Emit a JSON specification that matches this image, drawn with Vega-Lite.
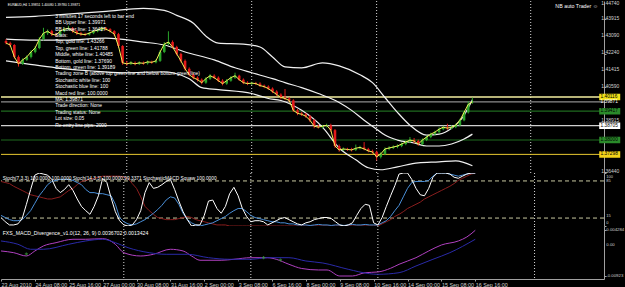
{
"$schema": "https://vega.github.io/schema/vega-lite/v6.json",
"background": "#000000",
"padding": 0,
"spacing": 0,
"bounds": "flush",
"resolve": {"scale": {"color": "independent", "fill": "independent", "stroke": "independent", "strokeWidth": "independent"}},
"config": {"view": {"stroke": null}, "text": {"font": "Liberation Sans"},
 "axis": {"labelFont": "Liberation Sans", "domainColor": "#a0a0a0", "tickColor": "#a0a0a0", "tickSize": 2, "labelPadding": 1, "labelColor": "#d0d0d0", "grid": false, "title": null, "labelFlush": false}},
"datasets": {
"candles": [
{"i":0,"o":1.42850,"h":1.42950,"l":1.42690,"c":1.42753},
{"i":1,"o":1.42753,"h":1.42820,"l":1.42560,"c":1.42656},
{"i":2,"o":1.42656,"h":1.42700,"l":1.41990,"c":1.42074},
{"i":3,"o":1.42074,"h":1.42150,"l":1.41600,"c":1.41735},
{"i":4,"o":1.41735,"h":1.42000,"l":1.41680,"c":1.41929},
{"i":5,"o":1.41929,"h":1.42150,"l":1.41880,"c":1.42074},
{"i":6,"o":1.42074,"h":1.42400,"l":1.42000,"c":1.42317},
{"i":7,"o":1.42317,"h":1.42600,"l":1.42250,"c":1.42511},
{"i":8,"o":1.42511,"h":1.43050,"l":1.42450,"c":1.42947},
{"i":9,"o":1.42947,"h":1.43500,"l":1.42880,"c":1.43238},
{"i":10,"o":1.43238,"h":1.43420,"l":1.43150,"c":1.43335},
{"i":11,"o":1.43335,"h":1.43400,"l":1.43100,"c":1.43190},
{"i":12,"o":1.43190,"h":1.43260,"l":1.43050,"c":1.43141},
{"i":13,"o":1.43141,"h":1.43420,"l":1.43090,"c":1.43335},
{"i":14,"o":1.43335,"h":1.43520,"l":1.43280,"c":1.43432},
{"i":15,"o":1.43432,"h":1.43600,"l":1.43380,"c":1.43481},
{"i":16,"o":1.43481,"h":1.43540,"l":1.43260,"c":1.43335},
{"i":17,"o":1.43335,"h":1.43400,"l":1.43150,"c":1.43238},
{"i":18,"o":1.43238,"h":1.43300,"l":1.43110,"c":1.43190},
{"i":19,"o":1.43190,"h":1.43260,"l":1.43100,"c":1.43170},
{"i":20,"o":1.43170,"h":1.43300,"l":1.43120,"c":1.43238},
{"i":21,"o":1.43238,"h":1.43400,"l":1.43190,"c":1.43335},
{"i":22,"o":1.43335,"h":1.43460,"l":1.43280,"c":1.43384},
{"i":23,"o":1.43384,"h":1.43560,"l":1.43330,"c":1.43481},
{"i":24,"o":1.43481,"h":1.43540,"l":1.43370,"c":1.43432},
{"i":25,"o":1.43432,"h":1.43480,"l":1.43270,"c":1.43335},
{"i":26,"o":1.43335,"h":1.43380,"l":1.43100,"c":1.43190},
{"i":27,"o":1.43190,"h":1.43250,"l":1.42520,"c":1.42608},
{"i":28,"o":1.42608,"h":1.42650,"l":1.41690,"c":1.41783},
{"i":29,"o":1.41783,"h":1.41880,"l":1.41640,"c":1.41735},
{"i":30,"o":1.41735,"h":1.41870,"l":1.41680,"c":1.41783},
{"i":31,"o":1.41783,"h":1.41850,"l":1.41660,"c":1.41735},
{"i":32,"o":1.41735,"h":1.41860,"l":1.41680,"c":1.41783},
{"i":33,"o":1.41783,"h":1.41850,"l":1.41690,"c":1.41760},
{"i":34,"o":1.41760,"h":1.41900,"l":1.41700,"c":1.41832},
{"i":35,"o":1.41832,"h":1.41890,"l":1.41740,"c":1.41810},
{"i":36,"o":1.41810,"h":1.41950,"l":1.41760,"c":1.41880},
{"i":37,"o":1.41880,"h":1.42400,"l":1.41830,"c":1.42317},
{"i":38,"o":1.42317,"h":1.42800,"l":1.42260,"c":1.42705},
{"i":39,"o":1.42705,"h":1.43330,"l":1.42650,"c":1.42802},
{"i":40,"o":1.42802,"h":1.42880,"l":1.42480,"c":1.42559},
{"i":41,"o":1.42559,"h":1.42620,"l":1.42150,"c":1.42220},
{"i":42,"o":1.42220,"h":1.42280,"l":1.41800,"c":1.41880},
{"i":43,"o":1.41880,"h":1.41950,"l":1.41400,"c":1.41492},
{"i":44,"o":1.41492,"h":1.41560,"l":1.41120,"c":1.41201},
{"i":45,"o":1.41201,"h":1.41280,"l":1.40980,"c":1.41056},
{"i":46,"o":1.41056,"h":1.41120,"l":1.40870,"c":1.40959},
{"i":47,"o":1.40959,"h":1.41020,"l":1.40730,"c":1.40813},
{"i":48,"o":1.40813,"h":1.41080,"l":1.40760,"c":1.41007},
{"i":49,"o":1.41007,"h":1.41230,"l":1.40950,"c":1.41153},
{"i":50,"o":1.41153,"h":1.41220,"l":1.40990,"c":1.41056},
{"i":51,"o":1.41056,"h":1.41120,"l":1.40840,"c":1.40910},
{"i":52,"o":1.40910,"h":1.40980,"l":1.40680,"c":1.40765},
{"i":53,"o":1.40765,"h":1.40990,"l":1.40710,"c":1.40910},
{"i":54,"o":1.40910,"h":1.41130,"l":1.40860,"c":1.41056},
{"i":55,"o":1.41056,"h":1.41300,"l":1.41000,"c":1.41153},
{"i":56,"o":1.41153,"h":1.41200,"l":1.40900,"c":1.40959},
{"i":57,"o":1.40959,"h":1.41020,"l":1.40740,"c":1.40813},
{"i":58,"o":1.40813,"h":1.40880,"l":1.40690,"c":1.40765},
{"i":59,"o":1.40765,"h":1.40860,"l":1.40700,"c":1.40790},
{"i":60,"o":1.40790,"h":1.40850,"l":1.40690,"c":1.40765},
{"i":61,"o":1.40765,"h":1.40830,"l":1.40600,"c":1.40668},
{"i":62,"o":1.40668,"h":1.40720,"l":1.40540,"c":1.40619},
{"i":63,"o":1.40619,"h":1.40680,"l":1.40450,"c":1.40522},
{"i":64,"o":1.40522,"h":1.40580,"l":1.40300,"c":1.40377},
{"i":65,"o":1.40377,"h":1.40440,"l":1.40150,"c":1.40231},
{"i":66,"o":1.40231,"h":1.40290,"l":1.40000,"c":1.40086},
{"i":67,"o":1.40086,"h":1.40500,"l":1.39950,"c":1.40037},
{"i":68,"o":1.40037,"h":1.40100,"l":1.39860,"c":1.39940},
{"i":69,"o":1.39940,"h":1.40000,"l":1.39380,"c":1.39455},
{"i":70,"o":1.39455,"h":1.39520,"l":1.39220,"c":1.39310},
{"i":71,"o":1.39310,"h":1.39380,"l":1.39180,"c":1.39261},
{"i":72,"o":1.39261,"h":1.39330,"l":1.39090,"c":1.39164},
{"i":73,"o":1.39164,"h":1.39230,"l":1.38880,"c":1.38970},
{"i":74,"o":1.38970,"h":1.39030,"l":1.38580,"c":1.38679},
{"i":75,"o":1.38679,"h":1.38760,"l":1.38560,"c":1.38631},
{"i":76,"o":1.38631,"h":1.38740,"l":1.38570,"c":1.38680},
{"i":77,"o":1.38680,"h":1.38800,"l":1.38620,"c":1.38720},
{"i":78,"o":1.38720,"h":1.38800,"l":1.38400,"c":1.38485},
{"i":79,"o":1.38485,"h":1.38540,"l":1.37620,"c":1.37709},
{"i":80,"o":1.37709,"h":1.37780,"l":1.37430,"c":1.37515},
{"i":81,"o":1.37515,"h":1.37640,"l":1.37460,"c":1.37564},
{"i":82,"o":1.37564,"h":1.37620,"l":1.37470,"c":1.37540},
{"i":83,"o":1.37540,"h":1.37620,"l":1.37440,"c":1.37515},
{"i":84,"o":1.37515,"h":1.37780,"l":1.37460,"c":1.37600},
{"i":85,"o":1.37600,"h":1.37720,"l":1.37540,"c":1.37640},
{"i":86,"o":1.37640,"h":1.37900,"l":1.37500,"c":1.37564},
{"i":87,"o":1.37564,"h":1.37620,"l":1.37400,"c":1.37467},
{"i":88,"o":1.37467,"h":1.37530,"l":1.37330,"c":1.37418},
{"i":89,"o":1.37418,"h":1.37480,"l":1.37000,"c":1.37176},
{"i":90,"o":1.37176,"h":1.37400,"l":1.37100,"c":1.37321},
{"i":91,"o":1.37321,"h":1.37640,"l":1.37260,"c":1.37564},
{"i":92,"o":1.37564,"h":1.37700,"l":1.37500,"c":1.37612},
{"i":93,"o":1.37612,"h":1.37740,"l":1.37560,"c":1.37661},
{"i":94,"o":1.37661,"h":1.37790,"l":1.37600,"c":1.37709},
{"i":95,"o":1.37709,"h":1.37880,"l":1.37650,"c":1.37806},
{"i":96,"o":1.37806,"h":1.37980,"l":1.37750,"c":1.37903},
{"i":97,"o":1.37903,"h":1.38150,"l":1.37850,"c":1.38000},
{"i":98,"o":1.38000,"h":1.38100,"l":1.37850,"c":1.37952},
{"i":99,"o":1.37952,"h":1.38020,"l":1.37720,"c":1.37800},
{"i":100,"o":1.37800,"h":1.38080,"l":1.37750,"c":1.38000},
{"i":101,"o":1.38000,"h":1.38220,"l":1.37950,"c":1.38146},
{"i":102,"o":1.38146,"h":1.38360,"l":1.38090,"c":1.38291},
{"i":103,"o":1.38291,"h":1.38460,"l":1.38230,"c":1.38388},
{"i":104,"o":1.38388,"h":1.38620,"l":1.38330,"c":1.38534},
{"i":105,"o":1.38534,"h":1.38700,"l":1.38480,"c":1.38631},
{"i":106,"o":1.38631,"h":1.38800,"l":1.38500,"c":1.38582},
{"i":107,"o":1.38582,"h":1.38720,"l":1.38530,"c":1.38631},
{"i":108,"o":1.38631,"h":1.38800,"l":1.38580,"c":1.38728},
{"i":109,"o":1.38728,"h":1.39040,"l":1.38680,"c":1.38970},
{"i":110,"o":1.38970,"h":1.39420,"l":1.38920,"c":1.39358},
{"i":111,"o":1.39358,"h":1.39900,"l":1.39300,"c":1.39746},
{"i":112,"o":1.39851,"h":1.40080,"l":1.39780,"c":1.39871}
],
"bands": [
{"i":0,"b":"u","p":1.44014},{"i":7,"b":"u","p":1.44063},{"i":14,"b":"u","p":1.44160},{"i":24,"b":"u","p":1.44305},{"i":33,"b":"u","p":1.44450},{"i":38,"b":"u","p":1.44354},{"i":41,"b":"u","p":1.44111},{"i":45,"b":"u","p":1.43723},{"i":48,"b":"u","p":1.43093},{"i":51,"b":"u","p":1.42753},{"i":57,"b":"u","p":1.42705},{"i":61,"b":"u","p":1.42559},{"i":64,"b":"u","p":1.42074},{"i":67,"b":"u","p":1.41589},{"i":71,"b":"u","p":1.41541},{"i":76,"b":"u","p":1.41783},{"i":80,"b":"u","p":1.41638},{"i":85,"b":"u","p":1.41201},{"i":88,"b":"u","p":1.40813},{"i":91,"b":"u","p":1.40086},{"i":94,"b":"u","p":1.39358},{"i":97,"b":"u","p":1.38728},{"i":101,"b":"u","p":1.38243},{"i":104,"b":"u","p":1.38291},{"i":107,"b":"u","p":1.38582},{"i":110,"b":"u","p":1.39213},{"i":112,"b":"u","p":1.39971},
{"i":0,"b":"m","p":1.42947},{"i":7,"b":"m","p":1.42899},{"i":14,"b":"m","p":1.42899},{"i":24,"b":"m","p":1.42996},{"i":33,"b":"m","p":1.42802},{"i":38,"b":"m","p":1.42656},{"i":43,"b":"m","p":1.42317},{"i":50,"b":"m","p":1.41929},{"i":55,"b":"m","p":1.41541},{"i":59,"b":"m","p":1.41298},{"i":64,"b":"m","p":1.41007},{"i":67,"b":"m","p":1.40813},{"i":71,"b":"m","p":1.40571},{"i":75,"b":"m","p":1.40280},{"i":80,"b":"m","p":1.39843},{"i":83,"b":"m","p":1.39455},{"i":86,"b":"m","p":1.38970},{"i":89,"b":"m","p":1.38534},{"i":91,"b":"m","p":1.38243},{"i":94,"b":"m","p":1.38000},{"i":98,"b":"m","p":1.37855},{"i":101,"b":"m","p":1.37709},{"i":104,"b":"m","p":1.37709},{"i":107,"b":"m","p":1.37806},{"i":110,"b":"m","p":1.38049},{"i":112,"b":"m","p":1.38291},
{"i":0,"b":"l","p":1.41880},{"i":5,"b":"l","p":1.41735},{"i":12,"b":"l","p":1.41541},{"i":20,"b":"l","p":1.41395},{"i":28,"b":"l","p":1.41298},{"i":38,"b":"l","p":1.41347},{"i":41,"b":"l","p":1.41250},{"i":44,"b":"l","p":1.41007},{"i":47,"b":"l","p":1.40571},{"i":51,"b":"l","p":1.40474},{"i":59,"b":"l","p":1.40280},{"i":63,"b":"l","p":1.40037},{"i":66,"b":"l","p":1.39940},{"i":71,"b":"l","p":1.39455},{"i":76,"b":"l","p":1.38631},{"i":80,"b":"l","p":1.37612},{"i":84,"b":"l","p":1.37030},{"i":87,"b":"l","p":1.36642},{"i":90,"b":"l","p":1.36545},{"i":94,"b":"l","p":1.36690},{"i":99,"b":"l","p":1.36885},{"i":104,"b":"l","p":1.36933},{"i":108,"b":"l","p":1.36982},{"i":112,"b":"l","p":1.36739}
],
"levels": [
{"p":1.40116,"k":"y1"},{"p":1.39871,"k":"bid"},{"p":1.39417,"k":"g1"},{"p":1.38705,"k":"w"},{"p":1.38000,"k":"g2"},{"p":1.37298,"k":"y2"}
],
"priceTicks": [{"v":1.4474},{"v":1.43915},{"v":1.4309},{"v":1.4224},{"v":1.41415},{"v":1.4059},{"v":1.38915},{"v":1.3644}],
"seps": [{"i":29},{"i":59},{"i":89},{"i":126}],
"stoch": [
{"i":0,"w":16,"b":20,"r":84},{"i":1,"w":8,"b":16,"r":82},{"i":2,"w":2,"b":12,"r":80},{"i":3,"w":2,"b":10,"r":75},{"i":4,"w":4,"b":10,"r":71},{"i":5,"w":14,"b":12,"r":67},{"i":6,"w":41,"b":20,"r":63},{"i":7,"w":69,"b":29,"r":59},{"i":8,"w":96,"b":43,"r":57},{"i":9,"w":100,"b":57,"r":55},
{"i":10,"w":98,"b":67,"r":53},{"i":11,"w":96,"b":78,"r":51},{"i":12,"w":88,"b":84,"r":51},{"i":13,"w":71,"b":86,"r":53},{"i":14,"w":63,"b":88,"r":55},{"i":15,"w":69,"b":88,"r":61},{"i":16,"w":78,"b":88,"r":67},{"i":17,"w":67,"b":86,"r":71},{"i":18,"w":51,"b":82,"r":78},{"i":19,"w":37,"b":78,"r":84},
{"i":20,"w":29,"b":69,"r":86},{"i":21,"w":22,"b":63,"r":88},{"i":22,"w":37,"b":63,"r":90},{"i":23,"w":57,"b":61,"r":92},{"i":24,"w":90,"b":61,"r":94},{"i":25,"w":82,"b":59,"r":94},{"i":26,"w":53,"b":57,"r":94},{"i":27,"w":27,"b":41,"r":94},{"i":28,"w":10,"b":16,"r":94},{"i":29,"w":2,"b":8,"r":92},
{"i":30,"w":0,"b":4,"r":90},{"i":31,"w":2,"b":2,"r":80},{"i":32,"w":12,"b":4,"r":71},{"i":33,"w":29,"b":8,"r":55},{"i":34,"w":63,"b":12,"r":37},{"i":35,"w":82,"b":18,"r":29},{"i":36,"w":71,"b":24,"r":22},{"i":37,"w":73,"b":31,"r":16},{"i":38,"w":78,"b":39,"r":14},{"i":39,"w":84,"b":49,"r":12},
{"i":40,"w":88,"b":55,"r":12},{"i":41,"w":69,"b":53,"r":12},{"i":42,"w":47,"b":41,"r":14},{"i":43,"w":27,"b":24,"r":16},{"i":44,"w":12,"b":12,"r":18},{"i":45,"w":0,"b":6,"r":16},{"i":46,"w":2,"b":2,"r":12},{"i":47,"w":2,"b":0,"r":10},{"i":48,"w":20,"b":2,"r":8},{"i":49,"w":47,"b":4,"r":6},
{"i":50,"w":49,"b":6,"r":4},{"i":51,"w":33,"b":10,"r":2},{"i":52,"w":24,"b":14,"r":2},{"i":53,"w":37,"b":18,"r":2},{"i":54,"w":61,"b":24,"r":0},{"i":55,"w":73,"b":29,"r":0},{"i":56,"w":57,"b":33,"r":0},{"i":57,"w":33,"b":33,"r":0},{"i":58,"w":18,"b":27,"r":0},{"i":59,"w":8,"b":20,"r":0},
{"i":60,"w":10,"b":16,"r":0},{"i":61,"w":10,"b":14,"r":0},{"i":62,"w":8,"b":12,"r":0},{"i":63,"w":2,"b":10,"r":0},{"i":64,"w":6,"b":8,"r":0},{"i":65,"w":10,"b":8,"r":0},{"i":66,"w":14,"b":6,"r":0},{"i":67,"w":16,"b":6,"r":0},{"i":68,"w":12,"b":4,"r":0},{"i":69,"w":8,"b":4,"r":0},
{"i":70,"w":4,"b":2,"r":0},{"i":71,"w":2,"b":2,"r":0},{"i":72,"w":6,"b":2,"r":0},{"i":73,"w":8,"b":1,"r":0},{"i":74,"w":12,"b":2,"r":0},{"i":75,"w":14,"b":3,"r":0},{"i":76,"w":16,"b":2,"r":0},{"i":77,"w":16,"b":2,"r":0},{"i":78,"w":14,"b":1,"r":0},{"i":79,"w":8,"b":2,"r":0},
{"i":80,"w":2,"b":2,"r":0},{"i":81,"w":0,"b":1,"r":0},{"i":82,"w":2,"b":2,"r":0},{"i":83,"w":6,"b":3,"r":0},{"i":84,"w":20,"b":2,"r":0},{"i":85,"w":33,"b":2,"r":0},{"i":86,"w":41,"b":3,"r":0},{"i":87,"w":39,"b":2,"r":0},{"i":88,"w":6,"b":2,"r":0},{"i":89,"w":2,"b":2,"r":0},
{"i":90,"w":16,"b":6,"r":4},{"i":91,"w":37,"b":10,"r":8},{"i":92,"w":57,"b":18,"r":12},{"i":93,"w":76,"b":29,"r":18},{"i":94,"w":98,"b":39,"r":22},{"i":95,"w":100,"b":55,"r":27},{"i":96,"w":100,"b":71,"r":33},{"i":97,"w":88,"b":82,"r":37},{"i":98,"w":71,"b":84,"r":41},{"i":99,"w":59,"b":84,"r":45},
{"i":100,"w":57,"b":84,"r":51},{"i":101,"w":71,"b":86,"r":55},{"i":102,"w":92,"b":94,"r":59},{"i":103,"w":100,"b":100,"r":63},{"i":104,"w":100,"b":100,"r":67},{"i":105,"w":100,"b":100,"r":71},{"i":106,"w":98,"b":98,"r":75},{"i":107,"w":92,"b":96,"r":80},{"i":108,"w":90,"b":94,"r":86},{"i":109,"w":94,"b":96,"r":90},
{"i":110,"w":98,"b":98,"r":94},{"i":111,"w":100,"b":100,"r":98},{"i":112,"w":100,"b":100,"r":100}
],
"macd": [
{"i":0,"s":"main","v":-0.00188},{"i":3,"s":"main","v":-0.00238},{"i":6,"s":"main","v":-0.00335},{"i":8,"s":"main","v":-0.00188},{"i":10,"s":"main","v":-0.00041},{"i":13,"s":"main","v":0.00056},{"i":17,"s":"main","v":0.00156},{"i":20,"s":"main","v":0.00156},{"i":24,"s":"main","v":0.00173},{"i":25,"s":"main","v":0.00156},{"i":27,"s":"main","v":0.00009},{"i":29,"s":"main","v":-0.00238},{"i":33,"s":"main","v":-0.00335},{"i":36,"s":"main","v":-0.00285},{"i":40,"s":"main","v":-0.00138},{"i":43,"s":"main","v":-0.00188},{"i":45,"s":"main","v":-0.00335},{"i":47,"s":"main","v":-0.00461},{"i":52,"s":"main","v":-0.00461},{"i":55,"s":"main","v":-0.00432},{"i":59,"s":"main","v":-0.00385},{"i":63,"s":"main","v":-0.00385},{"i":65,"s":"main","v":-0.00432},{"i":68,"s":"main","v":-0.00579},{"i":71,"s":"main","v":-0.00702},{"i":75,"s":"main","v":-0.00746},{"i":77,"s":"main","v":-0.00746},{"i":80,"s":"main","v":-0.00923},{"i":83,"s":"main","v":-0.00923},{"i":86,"s":"main","v":-0.00826},{"i":89,"s":"main","v":-0.00805},{"i":92,"s":"main","v":-0.00696},{"i":94,"s":"main","v":-0.00579},{"i":98,"s":"main","v":-0.00385},{"i":101,"s":"main","v":-0.00188},{"i":104,"s":"main","v":-0.00012},{"i":108,"s":"main","v":0.00106},{"i":110,"s":"main","v":0.00223},{"i":112,"s":"main","v":0.00420},
{"i":0,"s":"signal","v":0.00106},{"i":4,"s":"signal","v":0.00009},{"i":7,"s":"signal","v":-0.00138},{"i":10,"s":"signal","v":-0.00138},{"i":16,"s":"signal","v":0.00009},{"i":20,"s":"signal","v":0.00106},{"i":24,"s":"signal","v":0.00156},{"i":27,"s":"signal","v":0.00056},{"i":30,"s":"signal","v":-0.00091},{"i":35,"s":"signal","v":-0.00238},{"i":39,"s":"signal","v":-0.00285},{"i":44,"s":"signal","v":-0.00285},{"i":49,"s":"signal","v":-0.00385},{"i":54,"s":"signal","v":-0.00432},{"i":59,"s":"signal","v":-0.00432},{"i":63,"s":"signal","v":-0.00385},{"i":68,"s":"signal","v":-0.00385},{"i":72,"s":"signal","v":-0.00482},{"i":76,"s":"signal","v":-0.00541},{"i":82,"s":"signal","v":-0.00726},{"i":87,"s":"signal","v":-0.00855},{"i":89,"s":"signal","v":-0.00873},{"i":94,"s":"signal","v":-0.00826},{"i":98,"s":"signal","v":-0.00629},{"i":102,"s":"signal","v":-0.00432},{"i":106,"s":"signal","v":-0.00238},{"i":112,"s":"signal","v":0.00156}
],
"macdTicks": [{"v":0.004284,"t":"0.004284"},{"v":0,"t":"0.00"},{"v":-0.00923,"t":"-0.00923"}],
"div": [{"i":6,"v":-0.00276},{"i":62,"v":-0.00385},{"i":66,"v":-0.00452}]
},
"vconcat": [
{
"width": 603, "height": 172,
"layer": [
{"data": {"name": "seps"}, "mark": {"type": "rule", "color": "#d8d8d8", "strokeDash": [1, 2], "strokeWidth": 1},
 "encoding": {"x": {"field": "i", "type": "quantitative", "scale": {"domain": [0, 142.4], "nice": false, "zero": false}, "axis": null}}},
{"data": {"name": "levels"}, "mark": {"type": "rule"},
 "encoding": {
  "y": {"field": "p", "type": "quantitative", "scale": {"domain": [1.36386, 1.44814], "nice": false, "zero": false},
   "axis": {"orient": "right", "values": [1.4474, 1.43915, 1.4309, 1.4224, 1.41415, 1.4059, 1.38915, 1.3644], "labels": false}},
  "color": {"field": "k", "type": "nominal", "scale": {"domain": ["y1", "bid", "g1", "w", "g2", "y2"], "range": ["#f4efa0", "#8c8c8c", "#1f6a1f", "#d0d0d0", "#1f6a1f", "#e8c830"]}, "legend": null},
  "strokeWidth": {"field": "k", "type": "nominal", "scale": {"domain": ["y1", "bid", "g1", "w", "g2", "y2"], "range": [1.5, 1, 2, 2, 2, 1.5]}, "legend": null}}},
{"data": {"name": "bands"}, "mark": {"type": "line", "color": "#f0f0f0", "strokeWidth": 1.2, "interpolate": "monotone", "clip": true},
 "encoding": {"x": {"field": "i", "type": "quantitative", "axis": null}, "y": {"field": "p", "type": "quantitative"}, "detail": {"field": "b"}}},
{"data": {"name": "candles"}, "mark": {"type": "rule", "strokeWidth": 1, "clip": true},
 "encoding": {"x": {"field": "i", "type": "quantitative", "axis": null}, "y": {"field": "l", "type": "quantitative"}, "y2": {"field": "h"},
  "color": {"condition": {"test": "datum.c >= datum.o", "value": "#2aa52a"}, "value": "#e31a1a"}}},
{"data": {"name": "candles"}, "mark": {"type": "bar", "size": 2.6, "clip": true},
 "encoding": {"x": {"field": "i", "type": "quantitative", "axis": null}, "y": {"field": "o", "type": "quantitative"}, "y2": {"field": "c"},
  "color": {"condition": {"test": "datum.c >= datum.o", "value": "#2aa52a"}, "value": "#e31a1a"}}},
{"data": {"name": "candles"}, "mark": {"type": "line", "color": "#f2f25a", "strokeWidth": 1, "clip": true},
 "encoding": {"x": {"field": "i", "type": "quantitative", "axis": null}, "y": {"field": "c", "type": "quantitative"}}},
{"data": {"values": [{"t": "3 minutes 17 seconds left to bar end\nBB Upper line: 1.39971\nBB Lower line: 1.36427\nStats:\n\u00a0\u00a0\u00a0\u00a0\u00a0Top, gold line: 1.43266\n\u00a0\u00a0\u00a0\u00a0\u00a0Top, green line: 1.41788\n\u00a0\u00a0\u00a0\u00a0\u00a0Middle, white line: 1.40485\n\u00a0\u00a0\u00a0\u00a0\u00a0Bottom, gold line: 1.37690\n\u00a0\u00a0\u00a0\u00a0\u00a0Bottom, green line: 1.39189\nTrading zone B (above top green line and below bottom green line)\nStochastic white line: 100\nStochastic blue line: 100\nMacd red line: 100.0000\nMA: 1.39871\nTrade direction: None\nTrading status: None\n\u00a0\nLot size: 0.05\nRe-entry line pips: 2000"}]},
 "mark": {"type": "text", "align": "left", "baseline": "top", "lineBreak": "\n", "lineHeight": 6.4, "fontSize": 4.9, "color": "#ffffff"},
 "encoding": {"x": {"datum": 11.8, "axis": null}, "y": {"datum": 1.44186}, "text": {"field": "t"}}},
{"data": {"values": [{"t": "EURAUD,H4  1.39851 1.40080 1.39780 1.39871"}]},
 "mark": {"type": "text", "align": "left", "baseline": "middle", "fontSize": 3.4, "color": "#ffffff"},
 "encoding": {"x": {"datum": 0.4, "axis": null}, "y": {"datum": 1.44618}, "text": {"field": "t"}}},
{"data": {"values": [{"t": "NB auto Trader \u263a"}]},
 "mark": {"type": "text", "align": "right", "baseline": "middle", "fontSize": 5.3, "color": "#ffffff"},
 "encoding": {"x": {"datum": 142.2, "axis": null}, "y": {"datum": 1.44569}, "text": {"field": "t"}}},
{"data": {"name": "priceTicks"}, "transform": [{"filter": "datum.v > 1.447"}], "mark": {"type": "text", "align": "left", "baseline": "middle", "fontSize": 5, "color": "#d0d0d0"},
 "encoding": {"x": {"datum": 142.95, "axis": null}, "y": {"field": "v", "type": "quantitative"}, "text": {"field": "v", "format": ".5f"}}},
{"data": {"name": "priceTicks"}, "transform": [{"filter": "datum.v < 1.447"}], "mark": {"type": "text", "align": "left", "baseline": "middle", "dy": -1.2, "fontSize": 5, "color": "#d0d0d0"},
 "encoding": {"x": {"datum": 142.95, "axis": null}, "y": {"field": "v", "type": "quantitative"}, "text": {"field": "v", "format": ".5f"}}},
{"data": {"name": "levels"}, "transform": [{"filter": "datum.k != 'bid'"}], "mark": {"type": "rect"},
 "encoding": {"x": {"datum": 142.45, "axis": null}, "x2": {"datum": 147.5}, "y": {"field": "p", "type": "quantitative"}, "y2": {"field": "p"},
  "fill": {"field": "k", "type": "nominal", "scale": {"domain": ["y1", "g1", "w", "g2", "y2"], "range": ["#f2e21a", "#2a8a2a", "#ffffff", "#2a8a2a", "#f2d21a"]}, "legend": null},
  "stroke": {"field": "k", "type": "nominal", "scale": {"domain": ["y1", "g1", "w", "g2", "y2"], "range": ["#f2e21a", "#2a8a2a", "#ffffff", "#2a8a2a", "#f2d21a"]}, "legend": null},
  "strokeWidth": {"value": 6.5}}},
{"data": {"name": "levels"}, "mark": {"type": "text", "align": "left", "baseline": "middle", "fontSize": 4.8},
 "encoding": {"x": {"datum": 142.75, "axis": null}, "y": {"field": "p", "type": "quantitative"}, "text": {"field": "p", "format": ".5f"},
  "color": {"condition": {"test": "datum.k == 'bid'", "value": "#ffffff"}, "value": "#000000"}}}
]
},
{
"width": 603, "height": 53,
"layer": [
{"data": {"name": "seps"}, "mark": {"type": "rule", "color": "#d8d8d8", "strokeDash": [1, 2], "strokeWidth": 1},
 "encoding": {"x": {"field": "i", "type": "quantitative", "scale": {"domain": [0, 142.4], "nice": false, "zero": false}, "axis": null}}},
{"data": {"values": [{"v": 15}, {"v": 85}]}, "mark": {"type": "rule", "color": "#c8c8a0", "strokeDash": [4, 3], "strokeWidth": 1},
 "encoding": {"y": {"field": "v", "type": "quantitative", "scale": {"domain": [0, 100], "nice": false, "zero": false},
  "axis": {"orient": "right", "values": [0, 15, 85, 100], "labels": false}}}},
{"mark": {"type": "rule", "color": "#b0b0b0", "strokeWidth": 2}, "encoding": {"y": {"datum": 100}}},
{"data": {"name": "stoch"}, "mark": {"type": "line", "color": "#8b1e1e", "strokeWidth": 1, "clip": true},
 "encoding": {"x": {"field": "i", "type": "quantitative", "axis": null}, "y": {"field": "r", "type": "quantitative"}}},
{"data": {"name": "stoch"}, "mark": {"type": "line", "color": "#4a8fd8", "strokeWidth": 1, "clip": true},
 "encoding": {"x": {"field": "i", "type": "quantitative", "axis": null}, "y": {"field": "b", "type": "quantitative"}}},
{"data": {"name": "stoch"}, "mark": {"type": "line", "color": "#ffffff", "strokeWidth": 1, "clip": true},
 "encoding": {"x": {"field": "i", "type": "quantitative", "axis": null}, "y": {"field": "w", "type": "quantitative"}}},
{"data": {"values": [{"v": 100}]}, "mark": {"type": "text", "align": "left", "baseline": "top", "dy": 2, "fontSize": 4, "color": "#d0d0d0"},
 "encoding": {"x": {"datum": 142.95, "axis": null}, "y": {"field": "v", "type": "quantitative"}, "text": {"field": "v"}}},
{"data": {"values": [{"v": 85}]}, "mark": {"type": "text", "align": "left", "baseline": "middle", "dy": 0.5, "fontSize": 4, "color": "#d0d0d0"},
 "encoding": {"x": {"datum": 142.95, "axis": null}, "y": {"field": "v", "type": "quantitative"}, "text": {"field": "v"}}},
{"data": {"values": [{"v": 15}]}, "mark": {"type": "text", "align": "left", "baseline": "middle", "dy": -1.8, "fontSize": 4, "color": "#d0d0d0"},
 "encoding": {"x": {"datum": 142.95, "axis": null}, "y": {"field": "v", "type": "quantitative"}, "text": {"field": "v"}}},
{"data": {"values": [{"v": 0}]}, "mark": {"type": "text", "align": "left", "baseline": "bottom", "dy": -1.5, "fontSize": 4, "color": "#d0d0d0"},
 "encoding": {"x": {"datum": 142.95, "axis": null}, "y": {"field": "v", "type": "quantitative"}, "text": {"field": "v"}}},
{"data": {"values": [{"t": "Stoch(7,3,3) 100.0000 100.0000   Stoch(14,3,3) 100.0000 99.3371   StochasticMACD Squaw 100.0000"}]},
 "mark": {"type": "text", "align": "left", "baseline": "middle", "fontSize": 4.8, "color": "#ffffff"},
 "encoding": {"x": {"datum": 0.4, "axis": null}, "y": {"datum": 89}, "text": {"field": "t"}}}
]
},
{
"width": 603, "height": 53,
"layer": [
{"data": {"name": "seps"}, "mark": {"type": "rule", "color": "#d8d8d8", "strokeDash": [1, 2], "strokeWidth": 1},
 "encoding": {"x": {"field": "i", "type": "quantitative", "scale": {"domain": [0, 142.4], "nice": false, "zero": false}}}},
{"mark": {"type": "rule", "color": "#b0b0b0", "strokeWidth": 2}, "encoding": {"y": {"datum": 0.005459, "scale": {"domain": [-0.010111, 0.005459], "nice": false, "zero": false}}}},
{"data": {"name": "macd"}, "mark": {"type": "line", "strokeWidth": 1, "interpolate": "monotone", "clip": true},
 "encoding": {
  "x": {"field": "i", "type": "quantitative",
   "axis": {"values": [0, 8, 16, 24, 32, 40, 48, 56, 64, 72, 80, 88, 96, 104, 112], "labelExpr": "['23 Aug 2010','24 Aug 08:00','25 Aug 16:00','27 Aug 00:00','30 Aug 08:00','31 Aug 16:00','2 Sep 00:00','3 Sep 08:00','6 Sep 16:00','8 Sep 00:00','9 Sep 08:00','10 Sep 16:00','14 Sep 00:00','15 Sep 08:00','16 Sep 16:00'][round(datum.value/8)]", "labelAlign": "left", "labelFontSize": 5.4, "labelOverlap": false, "labelFlush": false}},
  "y": {"field": "v", "type": "quantitative",
   "axis": {"orient": "right", "values": [-0.00923, 0, 0.004284], "labels": false}},
  "color": {"field": "s", "type": "nominal", "scale": {"domain": ["main", "signal"], "range": ["#b040c0", "#2a2aa8"]}, "legend": null}}},
{"data": {"name": "div"}, "mark": {"type": "point", "shape": "cross", "filled": true, "size": 10, "color": "#3aa03a"},
 "encoding": {"x": {"field": "i", "type": "quantitative"}, "y": {"field": "v", "type": "quantitative"}}},
{"data": {"name": "macdTicks"}, "mark": {"type": "text", "align": "left", "baseline": "middle", "fontSize": 4.3, "color": "#d0d0d0"},
 "encoding": {"x": {"datum": 142.95}, "y": {"field": "v", "type": "quantitative"}, "text": {"field": "t"}}},
{"data": {"values": [{"t": "FXS_MACD_Divergence_v1.0(12, 26, 9) 0.0036702 0.0013424"}]},
 "mark": {"type": "text", "align": "left", "baseline": "middle", "fontSize": 5.2, "color": "#ffffff"},
 "encoding": {"x": {"datum": 0.4}, "y": {"datum": 0.0035}, "text": {"field": "t"}}}
]
}
]
}
